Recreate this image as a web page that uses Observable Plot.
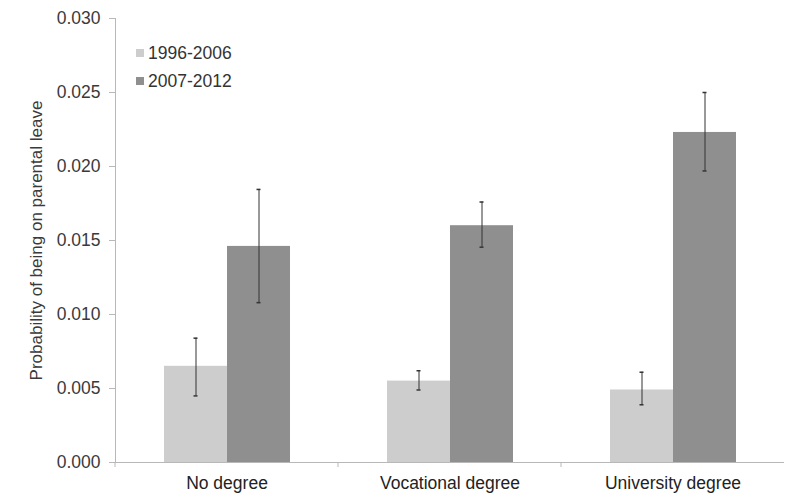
<!DOCTYPE html>
<html>
<head>
<meta charset="utf-8">
<script src="https://cdn.jsdelivr.net/npm/d3@7"></script>
<script src="https://cdn.jsdelivr.net/npm/@observablehq/plot@0.6"></script>
<style>
  html, body { margin: 0; padding: 0; background: #fff; }
  #chart { position: relative; width: 785px; height: 493px; font-family: "Liberation Sans", Arial, sans-serif; }
  #legend { position: absolute; left: 136px; top: 39px; font-size: 17.5px; color: #333; }
  #legend .item { display: flex; align-items: center; height: 28px; }
  #legend .sw { width: 8px; height: 8px; margin-right: 4px; }
</style>
</head>
<body>
<div id="chart"><div id="legend"></div></div>
<script>
// Education groups and observation periods
const categories = ["No degree", "Vocational degree", "University degree"];
const periods = ["1996-2006", "2007-2012"];
const periodColors = ["#cdcdcd", "#8f8f8f"];

// Probability of being on parental leave, with confidence bounds
const early = [0.0065, 0.0055, 0.0049];
const earlyLow = [0.0045, 0.0049, 0.0039];
const earlyHigh = [0.0084, 0.0062, 0.0061];
const late = [0.0146, 0.0160, 0.0223];
const lateLow = [0.0108, 0.01455, 0.0197];
const lateHigh = [0.01845, 0.0176, 0.0250];

const yTicks = [0, 0.005, 0.010, 0.015, 0.020, 0.025, 0.030];

const rows = [];
categories.forEach((c, i) => {
  rows.push({category: c, period: periods[0], value: early[i], low: earlyLow[i], high: earlyHigh[i]});
  rows.push({category: c, period: periods[1], value: late[i], low: lateLow[i], high: lateHigh[i]});
});

const axisGray = "#b8b8b8";

const chart = Plot.plot({
  width: 785,
  height: 493,
  marginLeft: 114,
  marginRight: 0,
  marginTop: 18,
  marginBottom: 31,
  style: {fontFamily: "Liberation Sans, Arial, sans-serif", color: "#333", background: "#fff"},
  fx: {domain: categories, padding: 0, label: null},
  x: {domain: periods, paddingInner: 0, paddingOuter: 0.765, axis: null},
  y: {domain: [0, 0.03]},
  color: {domain: periods, range: periodColors},
  marks: [
    Plot.axisFx({anchor: "bottom", tickSize: 0, tickPadding: 14, fontSize: 17.5, fill: "#222", label: null}),
    Plot.axisY({
      ticks: yTicks, tickFormat: d3.format(".3f"), tickSize: 6, tickPadding: 9,
      fontSize: 17.5, fill: "#3a3a3a", stroke: axisGray,
      label: "Probability of being on parental leave", labelAnchor: "center",
      labelOffset: 86, labelArrow: "none"
    }),
    Plot.frame({anchor: "left", facetAnchor: "left", stroke: axisGray}),
    Plot.barY(rows, {fx: "category", x: "period", y: "value", fill: "period", inset: 0}),
    Plot.ruleY([0], {stroke: axisGray}),
    Plot.ruleX(rows, {fx: "category", x: "period", y1: "low", y2: "high", stroke: "#333", strokeWidth: 1}),
    Plot.tickY(rows, {fx: "category", x: "period", y: "low", stroke: "#333", strokeWidth: 1.5, insetLeft: 29.5, insetRight: 29.5}),
    Plot.tickY(rows, {fx: "category", x: "period", y: "high", stroke: "#333", strokeWidth: 1.5, insetLeft: 29.5, insetRight: 29.5}),
    // small tick marking the left edge of each education group on the baseline
    (index, scales, values, dimensions) => {
      const y0 = dimensions.height - dimensions.marginBottom;
      return d3.create("svg:line").attr("stroke", axisGray)
        .attr("x1", dimensions.marginLeft).attr("x2", dimensions.marginLeft)
        .attr("y1", y0).attr("y2", y0 + 5).node();
    }
  ]
});

// axis title size
d3.select(chart).selectAll('[aria-label="y-axis label"] text').attr("font-size", 17);

document.getElementById("chart").prepend(chart);

const legend = d3.select("#legend");
periods.forEach((p, i) => {
  const item = legend.append("div").attr("class", "item");
  item.append("div").attr("class", "sw").style("background", periodColors[i]);
  item.append("span").text(p);
});
</script>
</body>
</html>
